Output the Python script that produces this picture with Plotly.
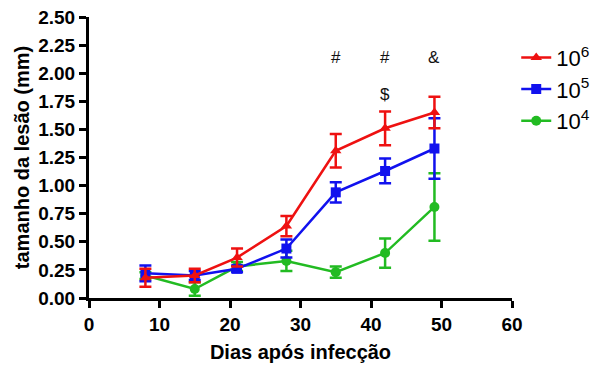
import plotly.graph_objects as go

days = [8, 15, 21, 28, 35, 42, 49]

r_mean = [0.18, 0.20, 0.36, 0.64, 1.31, 1.51, 1.65]
r_err = [0.08, 0.06, 0.08, 0.09, 0.15, 0.15, 0.14]
b_mean = [0.22, 0.20, 0.26, 0.44, 0.94, 1.13, 1.33]
b_err = [0.07, 0.04, 0.03, 0.08, 0.09, 0.11, 0.27]
g_mean = [0.20, 0.08, 0.28, 0.33, 0.23, 0.40, 0.81]
g_err = [0.03, 0.06, 0.04, 0.09, 0.05, 0.13, 0.30]

names = ["10<sup>6</sup>", "10<sup>5</sup>", "10<sup>4</sup>"]
colors = ["#ee1111", "#1111ee", "#22bb22"]
symbols = ["triangle-up", "square", "circle"]

sig_x = [35, 42, 49, 42]
sig_y = [2.14, 2.14, 2.14, 1.81]
sig_text = ["#", "#", "&", "$"]

FONT = "Liberation Sans, Arial"

fig = go.Figure()
series = [(g_mean, g_err, 2), (b_mean, b_err, 1), (r_mean, r_err, 0)]
for m, e, i in series:
    fig.add_trace(go.Scatter(
        x=days, y=m, name=names[i], mode="lines+markers", legendgroup=f"g{i}",
        line=dict(color=colors[i], width=2.5),
        marker=dict(symbol=symbols[i], size=10, color=colors[i]),
        error_y=dict(type="data", array=e, visible=True, color=colors[i], thickness=2.5, width=6),
    ))

for x, y, t in zip(sig_x, sig_y, sig_text):
    fig.add_annotation(x=x, y=y, text=t, showarrow=False,
                       font=dict(family=FONT, size=17, color="#111"))

fig.update_layout(
    width=598, height=357,
    margin=dict(l=81, r=94, t=9, b=67, autoexpand=False),
    paper_bgcolor="white", plot_bgcolor="white",
    font=dict(family=FONT, color="black"),
    showlegend=True,
    legend=dict(x=1.01, y=0.93, xanchor="left", yanchor="top", traceorder="reversed",
                font=dict(size=22, color="black"), itemwidth=30, tracegroupgap=15,
                bgcolor="rgba(0,0,0,0)"),
    xaxis=dict(range=[0, 60], tickvals=[0, 10, 20, 30, 40, 50, 60],
               showline=True, linecolor="black", linewidth=3,
               ticks="outside", ticklen=7, tickwidth=3, tickcolor="black",
               showgrid=False, zeroline=False, automargin=False, ticklabeloverflow="allow",
               tickfont=dict(size=19, family=FONT, weight="bold"),
               title=dict(text="<b>Dias após infecção</b>", font=dict(size=20), standoff=12)),
    yaxis=dict(range=[0, 2.5], tickvals=[0, 0.25, 0.5, 0.75, 1.0, 1.25, 1.5, 1.75, 2.0, 2.25, 2.5],
               tickformat=".2f",
               showline=True, linecolor="black", linewidth=3,
               ticks="outside", ticklen=7, tickwidth=3, tickcolor="black",
               showgrid=False, zeroline=False, automargin=False, ticklabeloverflow="allow",
               tickfont=dict(size=19, family=FONT, weight="bold"),
               title=dict(text="<b>tamanho da lesão (mm)</b>", font=dict(size=20), standoff=4)),
)

fig.write_html("out.html")
